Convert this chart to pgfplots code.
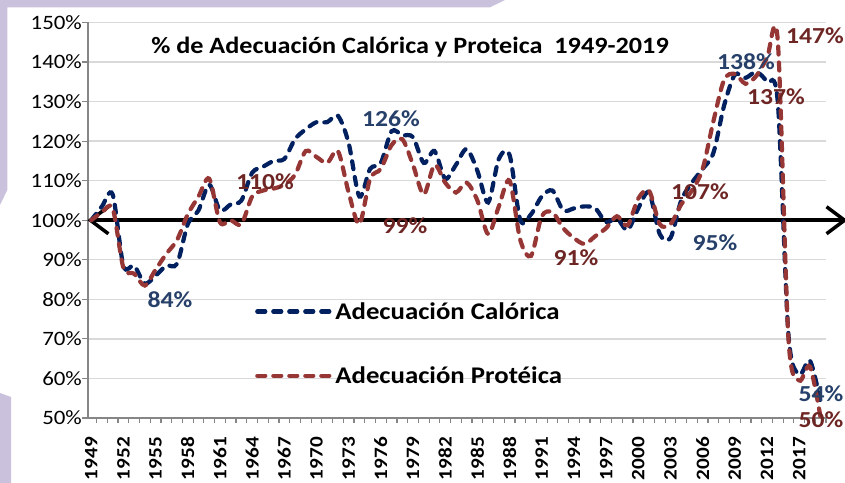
\documentclass[border=0pt]{standalone}
\usepackage{fontspec}
\setmainfont{Carlito}[FakeStretch=1.12]
\usepackage{pgfplots}
\usepackage{pgfplotstable}
\pgfplotsset{compat=1.18}
\usetikzlibrary{arrows.meta}

\definecolor{bgpurple}{RGB}{202,193,221}
\definecolor{calblue}{RGB}{0,32,96}
\definecolor{protred}{RGB}{150,55,53}
\definecolor{lblblue}{RGB}{38,64,106}
\definecolor{lblred}{RGB}{110,38,36}
\definecolor{gridgray}{RGB}{217,217,217}
\definecolor{axisgray}{RGB}{134,134,134}

% i = posicion de la categoria (1949 = 0), cal = calorica, prot = proteica (%)
\pgfplotstableread{
i  cal   prot
0  100   100
1  103.5 102
2  106.5 103
3  88.5  88
4  88.5  86.5
5  84    83.5
6  86    87.5
7  88.5  91.5
8  89    95
9  99    101.5
10 102.5 106
11 109   110.5
12 102.5 99.5
13 104   100
14 105   99
15 112   106
16 113.5 107.5
17 115   108
18 115.5 109
19 120.5 111.5
20 123   117.5
21 124.8 116
22 124.8 114.5
23 126.4 117.5
24 119.5 107
25 106   99
26 113   110.5
27 114.5 113
28 122.5 119
29 121.5 120.5
30 121   114
31 114.5 106.5
32 117.5 114
33 110.5 109.5
34 114   107
35 118   109.5
36 112.5 105
37 104.5 96.5
38 115.5 103.5
39 116.5 110
40 100   95
41 101.5 91
42 106   101
43 107.5 102
44 102.5 98
45 103   95.5
46 103.5 94
47 103   96
48 99.5  98
49 100.5 101
50 97.5  98.7
51 103   105.5
52 107   107.5
53 96.5  99
54 95.5  99
55 105   104
56 109.5 107.5
57 113   113
58 117   125
59 129   135.5
60 136.8 137
61 136   134.5
62 137.5 136.5
63 135   141
64 130   145.5
65 71    70
66 61    59.5
67 64.5  63
68 54    50
}\datatable

\begin{document}
\begin{tikzpicture}[x=1bp,y=1bp]
\useasboundingbox (0,0) rectangle (845,483);
\fill[white] (0,0) rectangle (845,483);
% marco lila
\fill[bgpurple] (0,483) -- (505,483) -- (490,475.7) -- (7.3,475.7) -- (7.3,293) -- (0,278) -- cycle;
\fill[bgpurple] (0,0) -- (11,0) -- (11,86) -- (0,90) -- cycle;

\begin{axis}[
  at={(88bp,65bp)}, anchor=south west,
  scale only axis, width=738bp, height=395.5bp,
  xmin=-0.3, xmax=68.5, ymin=50, ymax=150,
  clip=false,
  axis x line*=bottom, axis y line*=left,
  axis line style={draw=axisgray, line width=1.2bp},
  ytick={50,60,...,150},
  yticklabels={50\%,60\%,70\%,80\%,90\%,100\%,110\%,120\%,130\%,140\%,150\%},
  ymajorgrids, grid style={draw=gridgray, line width=1.3bp},
  xtick={0,3,...,66},
  xticklabels={1949,1952,1955,1958,1961,1964,1967,1970,1973,1976,1979,1982,1985,1988,1991,1994,1997,2000,2003,2006,2009,2012,2017},
  minor xtick={0.5,1.5,...,68.5},
  tick align=outside, major tick length=6bp, minor tick length=5bp,
  tick style={draw=axisgray, line width=1.2bp},
  major x tick style={draw=none},
  yticklabel style={font=\fontsize{20.5}{22}\selectfont, anchor=east, inner sep=0pt},
  xticklabel style={font=\bfseries\fontsize{19}{21}\selectfont, rotate=90, anchor=east, inner sep=0pt},
  xticklabel shift=13bp,
  legend style={at={(0.2263,0.293)}, anchor=north west, draw=none, fill=none,
    inner sep=0pt, row sep=46bp, nodes={inner sep=0pt},
    font=\bfseries\fontsize{24}{26}\selectfont,
    /tikz/every odd column/.append style={column sep=3bp}},
  legend cell align=left,
  legend image code/.code={\draw[#1] (0bp,0bp) -- (73bp,0bp);},
]
\addplot[forget plot, black, line width=3.5bp,
  {Straight Barb[length=18bp,width=27bp]}-{Straight Barb[length=18bp,width=27bp]}]
  coordinates {(-0.35,100) (70.5,100)};
\addplot[calblue, line width=4.2bp, line cap=round, dash pattern=on 8bp off 8bp,
  smooth, tension=0.5] table[x=i, y=cal] {\datatable};
\addlegendentry{Adecuación Calórica}
\addplot[protred, line width=4.2bp, line cap=round, dash pattern=on 8bp off 8bp,
  smooth, tension=0.5] table[x=i, y=prot] {\datatable};
\addlegendentry{Adecuación Protéica}
\end{axis}

\node[font=\bfseries\fontsize{23.5}{25}\selectfont, inner sep=0pt] at (410,436)
  {\% de Adecuación Calórica y Proteica\ \ 1949-2019};

\begin{scope}[every node/.style={font=\bfseries\fontsize{23}{25}\selectfont, inner sep=0pt}]
\node[lblblue] at (170,183) {84\%};
\node[lblred]  at (265,301) {110\%};
\node[lblblue] at (391,364) {126\%};
\node[lblred]  at (405,257) {99\%};
\node[lblred]  at (576,225) {91\%};
\node[lblred]  at (700,291) {107\%};
\node[lblblue] at (715,240) {95\%};
\node[lblblue] at (746,421) {138\%};
\node[lblred]  at (776,386) {137\%};
\node[lblred]  at (815,447) {147\%};
\node[lblblue] at (821,89)  {54\%};
\node[lblred]  at (821,63)  {50\%};
\end{scope}
\end{tikzpicture}
\end{document}
